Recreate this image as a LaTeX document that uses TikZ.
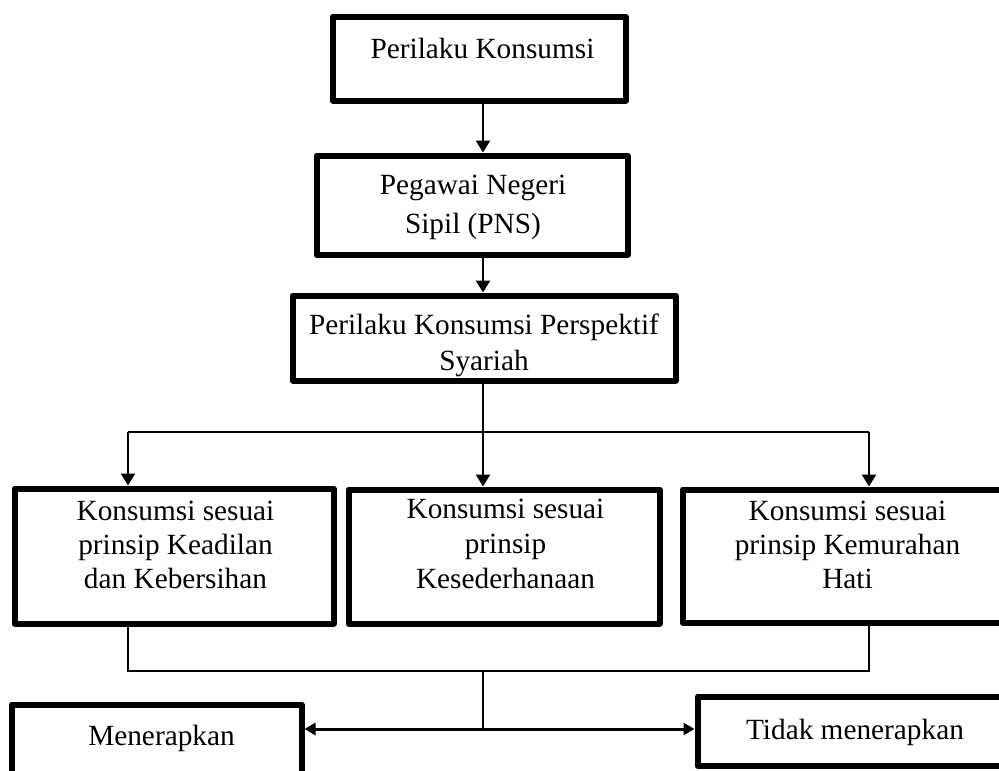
\documentclass[tikz,border=0pt]{standalone}
\usepackage{fontspec}
\setmainfont{Liberation Serif}
\usetikzlibrary{arrows.meta}
\newcommand{\mlines}[2]{\vtop{\baselineskip=#1\relax\lineskiplimit=-100pt\lineskip=0pt\halign{\hfil##\hfil\cr #2\crcr}}}
\begin{document}
\begin{tikzpicture}[x=1pt,y=-1pt,
  pbox/.style={draw=black, line width=6pt, line join=round, rectangle, inner sep=0pt, fill=white},
  txt/.style={inner sep=0pt, anchor=base, font=\fontsize{29.3pt}{35pt}\selectfont},
  arr/.style={line width=2.4pt, -{Triangle[length=12pt,width=14pt]}},
  conn/.style={line width=1.6pt},
  dbl/.style={line width=3pt, {Triangle[length=11pt,width=12pt]}-{Triangle[length=11pt,width=12pt]}}]
\useasboundingbox (0,0) rectangle (999,771);
\fill[white] (0,0) rectangle (999,771);
\clip (0,0) rectangle (999,771);
% boxes
\node[pbox, minimum width=293pt, minimum height=84pt] (b1) at (479,58.5) {};
\node[pbox, minimum width=311pt, minimum height=99pt] (b2) at (472,205) {};
\node[pbox, minimum width=383pt, minimum height=85pt] (b3) at (484,338) {};
\node[pbox, minimum width=319pt, minimum height=135pt] (k1) at (174,556) {};
\node[pbox, minimum width=311pt, minimum height=134pt] (k2) at (504,556.5) {};
\node[pbox, minimum width=332.5pt, minimum height=133pt] (k3) at (848.75,556) {};
\node[pbox, minimum width=290pt, minimum height=105.5pt] (m1) at (156.5,757.25) {};
\node[pbox, minimum width=317.5pt, minimum height=69pt] (m2) at (856.25,731) {};
% texts
\node[txt] (t1) at (482.5,58) {Perilaku Konsumsi};
\node[txt] (t2) at (473,194) {\mlines{39pt}{Pegawai Negeri\cr Sipil (PNS)}};
\node[txt] (t3) at (484,334) {\mlines{36pt}{Perilaku Konsumsi Perspektif\cr Syariah}};
\node[txt] (t4) at (175.5,520) {\mlines{34pt}{Konsumsi sesuai\cr prinsip Keadilan\cr dan Kebersihan}};
\node[txt] (t5) at (505.5,518) {\mlines{35pt}{Konsumsi sesuai\cr prinsip\cr Kesederhanaan}};
\node[txt] (t6) at (847.5,520) {\mlines{34pt}{Konsumsi sesuai\cr prinsip Kemurahan\cr Hati}};
\node[txt] (t7) at (161.5,745) {Menerapkan};
\node[txt] (t8) at (855,739) {Tidak menerapkan};
% junction coordinates
\coordinate (jt) at (483,432);
\coordinate (xL) at (128,432);
\coordinate (xR) at (869,432);
\coordinate (jb) at (483,671);
\coordinate (jm) at (483,729);
% connectors
\draw[arr] (b1.south -| jt) -- (b2.north -| jt);
\draw[arr] (b2.south -| jt) -- (b3.north -| jt);
\draw[arr] (b3.south -| jt) -- (k2.north -| jt);
\draw[conn] (xL) -- (xR);
\draw[arr] (xL) -- (k1.north -| xL);
\draw[arr] (xR) -- (k3.north -| xR);
\draw[conn] (k1.south -| xL) -- (xL |- jb) -- (xR |- jb) -- (k3.south -| xR);
\draw[conn] (jb) -- (jm);
\draw[dbl] (m1.east |- jm) -- (m2.west |- jm);
\end{tikzpicture}
\end{document}
